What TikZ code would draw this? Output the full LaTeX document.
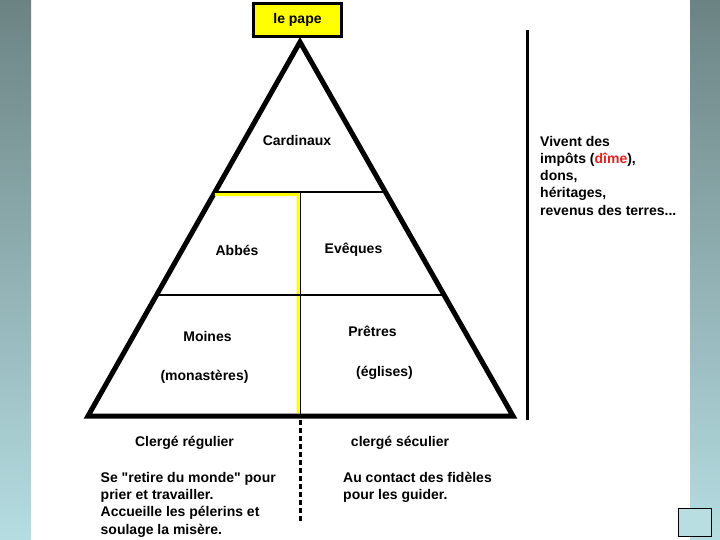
\documentclass[tikz,border=0pt]{standalone}
\usepackage{fontspec}
\setmainfont{Liberation Sans}[Ligatures=TeXOff]
\usetikzlibrary{positioning,calc}
\definecolor{sidetop}{HTML}{6C8383}
\definecolor{sidebot}{HTML}{B5DDE2}
\definecolor{papeyellow}{HTML}{FFFF00}
\definecolor{dimered}{HTML}{E02222}
\definecolor{boxblue}{HTML}{B8DEE2}

\begin{document}
\begin{tikzpicture}[x=1pt,y=-1pt,
  every node/.style={font=\bfseries\fontsize{14}{17.3}\selectfont,inner sep=0pt},
  lbl/.style={anchor=base},
  txt/.style={anchor=base west,align=left},
  pyr/.style={line width=5pt,black},
  tier/.style={line width=2pt,black},
  ydiv/.style={line width=3pt,papeyellow},
  sep/.style={line width=3pt,black,dash pattern=on 5pt off 3pt}]

\useasboundingbox (0,0) rectangle (720,540);
\fill[white] (0,0) rectangle (720,540);
\shade[top color=sidetop,bottom color=sidebot] (0,0) rectangle (31,540);
\shade[top color=sidetop,bottom color=sidebot] (690,0) rectangle (720,540);

% pyramide
\coordinate (apex) at (300,42);
\coordinate (bl) at (88,416);
\coordinate (br) at (513,416);
\draw[pyr] (apex) -- (bl) -- (br) -- cycle;

\coordinate (t1l) at ($(apex)!0.401!(bl)$);
\coordinate (t1r) at ($(apex)!0.401!(br)$);
\coordinate (t2l) at ($(apex)!0.6765!(bl)$);
\coordinate (t2r) at ($(apex)!0.6765!(br)$);
\coordinate (mtop) at (300.5,192);
\coordinate (mbot) at (300.5,414);

\draw[ydiv] ($(t1l)+(0,2.5)$) -- (298,194.5) -- (298,413);
\draw[tier] (t1l) -- (t1r);
\draw[tier] (t2l) -- (t2r);
\draw[line width=1.8pt] (mtop) -- (mbot);

\node[draw,line width=3pt,fill=papeyellow,minimum width=88pt,minimum height=33pt] (pape) at (297.5,20) {le pape};

\node[lbl] (cardinaux) at (297,146) {Cardinaux};
\node[lbl] (abbes) at (237,255.5) {Abbés};
\node[lbl] (eveques) at (353.5,254) {Evêques};
\node[lbl] (moines) at (207.5,341) {Moines};
\node[lbl] (monast) at (204.5,380) {(monastères)};
\node[lbl] (pretres) at (372.5,336) {Prêtres};
\node[lbl] (eglises) at (384.5,376) {(églises)};

% revenus
\coordinate (rtop) at (527,30);
\coordinate (rbot) at (527,420);
\draw[line width=3pt] (rtop) -- (rbot);
\node[txt] (revenus) at (540,215.2) {Vivent des\\impôts (\textcolor{dimered}{dîme}),\\dons,\\héritages,\\revenus des terres...};

% clergé
\coordinate (stop) at (300,420);
\coordinate (sbot) at (300,522);
\draw[sep] (stop) -- (sbot);
\node[lbl] (regulier) at (184.5,446.5) {Clergé régulier};
\node[lbl] (seculier) at (400,446.5) {clergé séculier};
\node[txt] (regtxt) at (100.5,534.2) {Se "retire du monde" pour\\prier et travailler.\\Accueille les pélerins et\\soulage la misère.};
\node[txt] (sectxt) at (343,499.6) {Au contact des fidèles\\pour les guider.};

\node[draw,line width=1.5pt,fill=boxblue,minimum width=33pt,minimum height=28pt] (navbox) at (695,522.5) {};
\end{tikzpicture}
\end{document}
